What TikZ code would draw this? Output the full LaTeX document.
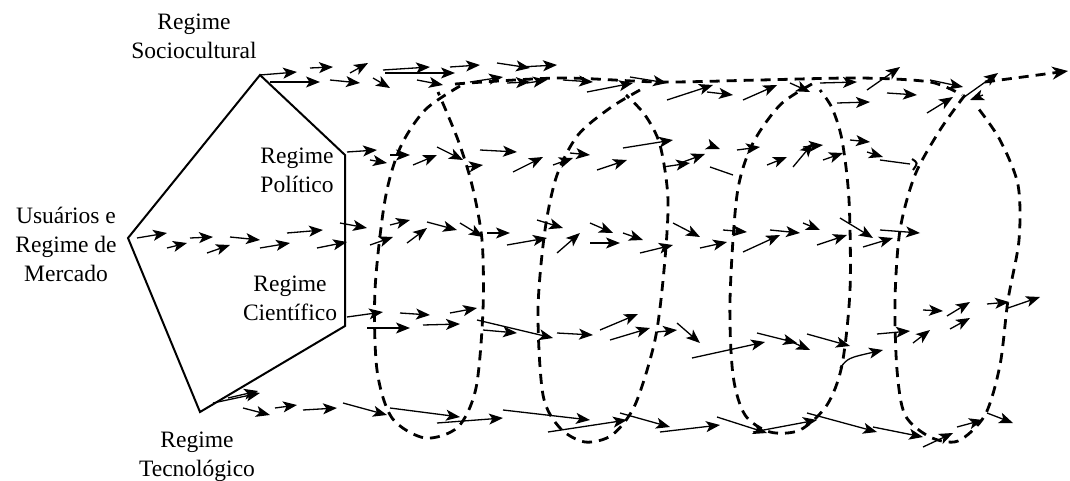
\documentclass[tikz,border=0pt]{standalone}
\usepackage{fontspec}
\setmainfont{Liberation Serif}
\usetikzlibrary{arrows.meta}
\begin{document}
\begin{tikzpicture}[x=1pt,y=-1pt,
  arr/.style={line width=1.3pt,-{Stealth[length=14pt,width=11pt,inset=3.5pt]}},
  seg/.style={line width=1.3pt},
  helix/.style={line width=2.8pt,dash pattern=on 10pt off 7pt},
  frame/.style={line width=2pt,line join=miter},
  lbl/.style={align=center,font=\fontsize{23.5}{29}\selectfont,inner sep=0pt}]
\useasboundingbox[fill=white] (0,0) rectangle (1070,481);

% pentagon
\coordinate (pL) at (128,238);
\coordinate (pT) at (260,75);
\coordinate (pRU) at (345,155);
\coordinate (pRL) at (345,326);
\coordinate (pB) at (200,412);
\draw[frame] (pL) -- (pT) -- (pRU) -- (pRL) -- (pB) -- cycle;

% labels
\node[lbl] (socio) at (194,36) {Regime\\Sociocultural};
\node[lbl] (polit) at (297,170) {Regime\\Político};
\node[lbl] (usu) at (66,244) {Usuários e\\Regime de\\Mercado};
\node[lbl] (cient) at (290,298) {Regime\\Científico};
\node[lbl] (tecno) at (197,457) {Regime\\Tecnológico};

% dashed helix loops
\draw[helix] plot[smooth] coordinates {(460,86) (425,110) (400,148) (385,200) (375,290) (377,370) (392,418) (425,438) (458,427) (476,388) (483,310) (482,240) (472,185) (458,140) (438,92)};
\draw[helix] plot[smooth] coordinates {(640,90) (610,108) (578,135) (557,175) (545,230) (538,310) (543,395) (560,428) (585,442) (612,435) (635,405) (655,340) (664,270) (668,200) (660,145) (645,115) (626,95)};
\draw[helix] plot[smooth] coordinates {(812,84) (780,105) (752,145) (737,195) (730,300) (733,375) (745,415) (770,432) (800,430) (827,405) (842,365) (850,290) (849,200) (842,140) (832,108) (820,90)};
\draw[helix] plot[smooth] coordinates {(965,95) (940,130) (915,175) (900,230) (895,300) (897,370) (905,415) (930,437) (958,441) (985,415) (1000,365) (1008,300) (1019,240) (1018,185) (1000,140) (978,108)};
\draw[helix] plot[smooth] coordinates {(455,84) (560,78) (660,82) (760,80) (860,78) (930,82) (962,95)};
\draw[helix,-{Stealth[length=16pt,width=13pt]}] (985,82) -- (1068,71);

% row A (top)
\foreach \a/\b/\c/\d in {
 260/75/297/72, 270/82/320/82, 310/68/333/67, 330/80/360/83, 350/73/368/63,
 373/78/390/88, 383/70/430/67, 385/73/455/73, 417/80/443/85, 450/67/480/65,
 470/82/503/77, 497/63/530/68, 507/83/530/82, 520/67/557/65, 527/83/547/80,
 563/80/593/82, 587/92/633/83, 630/77/667/83, 667/100/713/85, 707/92/733/95,
 743/100/777/85, 790/83/810/92, 820/83/857/82, 837/103/870/102, 867/90/900/67,
 887/93/917/95, 927/113/953/97, 930/80/963/87, 960/100/998/73, 983/95/970/100}
 \draw[arr] (\a,\b) -- (\c,\d);

% row B
\foreach \a/\b/\c/\d in {
 347/152/377/150, 370/160/387/163, 390/155/410/155, 413/165/437/155, 437/147/463/160,
 467/167/483/165, 480/150/517/152, 513/172/543/157, 553/165/573/158, 570/153/590/155,
 597/170/627/160, 623/148/673/140, 663/167/690/163, 683/162/705/154, 712/146/720/149,
 737/150/760/147, 767/165/787/157, 793/167/813/143, 803/147/823/145, 823/160/843/153,
 850/140/870/142, 867/152/883/157}
 \draw[arr] (\a,\b) -- (\c,\d);
\draw[seg] (710,167) -- (733,175);
\draw[seg] (880,160) -- (910,164);
\draw[line width=2pt] (912,159) .. controls (918,163) .. (913,170);

% row C
\foreach \a/\b/\c/\d in {
 137/238/167/233, 167/248/187/243, 190/238/213/237, 207/253/230/245, 230/237/260/240,
 260/248/290/243, 287/233/323/230, 317/248/347/242, 340/223/367/228, 370/245/393/237,
 390/225/410/220, 407/243/427/228, 427/222/457/230, 460/223/483/237, 487/233/510/233,
 507/245/547/238, 537/220/563/228, 557/253/580/233, 590/223/613/233, 590/243/620/243,
 623/233/643/240, 640/253/673/245, 673/223/700/237, 700/248/727/242, 723/230/747/232,
 743/252/780/235, 770/230/800/233, 803/223/820/230, 817/245/847/235, 840/218/873/238,
 863/247/893/238, 880/230/920/233}
 \draw[arr] (\a,\b) -- (\c,\d);

% row D
\foreach \a/\b/\c/\d in {
 347/317/383/312, 367/328/410/328, 400/313/430/315, 423/325/460/324, 450/313/477/308,
 477/320/553/338, 483/330/517/333, 557/333/593/335, 600/330/638/314, 610/340/650/328,
 657/332/677/330, 677/323/700/343, 692/358/765/342, 757/333/797/343, 785/339/810/350,
 807/334/850/346, 877/334/910/331, 913/343/930/330, 923/310/943/311, 947/316/970/302,
 950/329/970/318, 987/304/1009/302, 1008/308/1040/297}
 \draw[arr] (\a,\b) -- (\c,\d);
\draw[arr] (840,368) .. controls (848,358) .. (883,350);

% row E (bottom)
\foreach \a/\b/\c/\d in {
 213/403/260/393, 228/398/258/391, 243/408/270/415, 275/408/297/405, 303/410/337/408,
 343/403/387/415, 390/408/460/417, 437/423/503/418, 503/410/590/420, 548/432/627/420,
 620/413/670/427, 660/432/720/425, 717/417/767/433, 753/432/817/420, 807/413/877/432,
 873/427/923/437, 923/447/953/433, 957/427/983/420, 987/413/1013/423}
 \draw[arr] (\a,\b) -- (\c,\d);
\end{tikzpicture}
\end{document}
